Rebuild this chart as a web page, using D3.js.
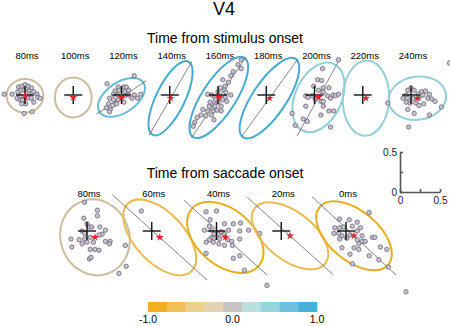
<!DOCTYPE html>
<html>
<head>
<meta charset="utf-8">
<script src="https://cdn.jsdelivr.net/npm/d3@7"></script>
<style>
  body { margin: 0; background: #fff; }
  svg { display: block; font-family: "Liberation Sans", Arial, sans-serif; }
</style>
</head>
<body>
<svg id="chart" width="450" height="326"></svg>
<script>
// ---- data (units = same as the 0.5 scale bar) ----
var stimLabels = ["80ms", "100ms", "120ms", "140ms", "160ms", "180ms", "200ms", "220ms", "240ms"]
var stimR = [-0.3, -0.3, 0.6, 0.9, 0.95, 0.9, 0.4, 0.4, 0.4]
var stimMean = [[0, -0.01], [0, -0.03], [0, -0.03], [0.01, -0.04], [0.01, -0.03], [0.04, -0.04], [0.05, -0.03], [0.04, -0.04], [0.08, -0.04]]
// [semi-major, semi-minor, angle deg]
var stimEllipse = [[0.23, 0.21, 0], [0.25, 0.23, 90], [0.33, 0.19, 34], [0.51, 0.18, 64], [0.59, 0.21, 57], [0.59, 0.21, 56], [0.46, 0.29, 65], [0.47, 0.29, 88], [0.36, 0.27, 8]]
// regression line [angle deg, half length] or null
var stimLine = [null, null, [34, 0.37], [60, 0.53], [56, 0.61], [54, 0.60], [61, 0.55], null, null]
var stimPoints = [
  [[-0.26, 0.01], [-0.16, 0.01], [-0.09, 0.04], [-0.08, 0.10], [-0.04, 0.11], [0, 0.13], [0.04, 0.11], [0.08, 0.09], [-0.05, 0.06], [-0.01, 0.06], [0.05, 0.05], [0.11, 0.04], [0.15, 0.01], [0.16, -0.03], [-0.10, -0.04], [-0.06, -0.06], [-0.03, -0.06], [0.03, -0.04], [0.08, -0.04], [0.11, -0.09], [0.01, -0.11], [-0.04, -0.11], [-0.01, -0.23], [0.09, -0.21], [0.19, -0.04], [-0.06, -0.01], [0.05, 0.01]],
  [],
  [[-0.18, 0.14], [0.16, 0.24], [-0.04, 0.10], [0.03, 0.10], [0.06, 0.10], [-0.08, 0.05], [-0.03, 0.06], [0.04, 0.04], [0.09, 0.06], [-0.10, 0.01], [-0.05, 0], [0.04, -0.01], [0.09, 0], [0.16, 0], [0.20, -0.04], [0.24, 0.01], [-0.15, -0.04], [-0.10, -0.06], [-0.04, -0.06], [0.03, -0.09], [-0.16, -0.11], [-0.11, -0.13], [-0.06, -0.11], [-0.19, -0.16], [-0.14, -0.18], [-0.15, -0.21], [0.13, -0.04]],
  [],
  [[0.29, 0.44], [0.25, 0.38], [0.29, 0.33], [0.19, 0.29], [0.16, 0.24], [0.06, 0.19], [0.13, 0.16], [0.09, 0.11], [0.03, 0.09], [0.08, 0.06], [0, 0.04], [0.10, 0.03], [0.16, 0], [0.09, -0.03], [-0.13, 0.01], [-0.08, 0], [-0.04, -0.03], [0.03, -0.03], [0.06, -0.06], [0.11, -0.08], [0, -0.09], [-0.08, -0.11], [-0.11, -0.14], [-0.04, -0.14], [0.04, -0.14], [-0.19, -0.18], [-0.13, -0.20], [-0.06, -0.20], [-0.01, -0.19], [0.04, -0.20], [-0.21, -0.25], [-0.15, -0.26], [-0.08, -0.25], [-0.05, -0.31], [-0.26, -0.28], [-0.29, -0.34], [-0.31, -0.39], [-0.10, -0.09], [-0.03, -0.06]],
  [],
  [[0.30, 0.44], [0.10, 0.33], [0.04, 0.19], [0.09, 0.18], [-0.01, 0.11], [0.11, 0.09], [0.18, 0.09], [0.05, 0.06], [0.11, 0.04], [-0.11, -0.01], [-0.08, -0.03], [-0.03, -0.01], [0.16, -0.01], [0.23, 0], [0.26, -0.01], [0.30, 0.01], [0.01, -0.05], [0.08, -0.08], [0.11, -0.08], [0.20, -0.04], [-0.11, -0.14], [0.11, -0.14], [0.18, -0.20], [0.24, -0.20], [0.08, -0.25], [-0.14, -0.30], [-0.09, -0.33], [-0.24, -0.38], [0.20, -0.40], [-0.28, -0.23]],
  [],
  [[0.48, 0.40], [-0.29, -0.10], [-0.04, 0.06], [0, 0.09], [0.04, 0.06], [0.13, 0.04], [0.18, 0.05], [0.23, 0.01], [0.15, 0], [0.09, 0.01], [-0.06, 0], [-0.10, -0.04], [-0.04, -0.04], [0.03, -0.04], [0.10, -0.04], [0.21, -0.04], [0.26, -0.05], [0.30, -0.08], [-0.06, -0.09], [-0.01, -0.10], [0.06, -0.10], [0.10, -0.13], [0.16, -0.11], [-0.04, -0.18], [0.04, -0.23], [0.23, -0.25], [0.38, -0.15], [-0.03, -0.40]]
]

var sacLabels = ["80ms", "60ms", "40ms", "20ms", "0ms"]
var sacR = [-0.3, -0.6, -0.85, -0.6, -0.85]
var sacMean = [[0.10, -0.08], [0.10, -0.08], [0.11, -0.08], [0.11, -0.06], [0.10, -0.06]]
var sacEllipse = [[0.48, 0.43, -70], [0.58, 0.31, -47], [0.55, 0.35, -40], [0.56, 0.30, -38], [0.56, 0.31, -40]]
var sacLine = [null, [-42, 0.80], [-42, 0.70], [-42, 0.72], [-43, 0.72]]
var sacPoints = [
  [[-0.03, 0.36], [0.13, 0.26], [-0.04, 0.16], [0.13, 0.19], [0, 0.09], [0.03, 0.05], [0.06, 0.05], [0.16, 0.05], [0.23, 0.01], [-0.06, 0], [-0.03, -0.03], [0.19, -0.04], [0.15, -0.05], [0.04, -0.08], [-0.03, -0.10], [-0.20, -0.10], [-0.19, -0.20], [-0.06, -0.16], [0, -0.14], [0.23, -0.13], [0.29, -0.13], [0.28, -0.16], [0.04, -0.23], [0.10, -0.23], [0.15, -0.24], [0.48, -0.18], [0.03, -0.35], [0.05, -0.33], [0.40, -0.53], [0.49, -0.44], [-0.10, -0.11], [0.08, -0.14]],
  [[-0.13, 0.25]],
  [[-0.13, 0.24], [0, 0.25], [-0.08, 0.14], [0.10, 0.09], [0.21, 0.09], [0.30, 0.10], [-0.09, 0.06], [-0.15, 0.01], [-0.06, 0.01], [-0.03, -0.04], [0.03, -0.04], [0.06, -0.01], [0.10, -0.04], [0.15, 0.01], [-0.06, -0.08], [-0.03, -0.09], [0.04, -0.10], [-0.09, -0.11], [-0.13, -0.14], [0.14, -0.11], [0.19, -0.13], [0.29, -0.10], [0.29, 0], [0.40, 0.01], [0.10, -0.18], [0.20, -0.18], [-0.13, -0.28], [0.21, -0.34], [0.29, -0.31], [0.35, -0.49], [-0.04, -0.14], [0.03, -0.16], [0.63, -0.68], [0.54, -0.03]],
  [],
  [[0.29, 0.23], [-0.08, 0.15], [0.04, 0.14], [0.14, 0.11], [-0.14, 0.04], [-0.08, 0.04], [-0.03, 0.05], [0.08, 0.06], [0.18, 0.04], [-0.15, -0.03], [-0.09, -0.03], [-0.05, -0.06], [-0.08, -0.10], [0.01, -0.09], [0.20, -0.06], [0.33, -0.08], [0.36, -0.08], [0.14, -0.11], [0.16, -0.16], [0.20, -0.13], [0.24, -0.13], [0.10, -0.21], [-0.05, -0.21], [0.16, -0.23], [0.43, -0.20], [0.05, -0.29], [0.29, -0.31], [0.51, -0.23], [0.41, -0.36], [0.08, -0.41], [0.53, -0.45], [0.14, 0], [0.05, -0.05], [0.75, -0.76]]
]

var barColors = ["#f0b020", "#f0c058", "#ecd08c", "#e2d4b2", "#c8c4c4", "#b8e0e0", "#98d4dc", "#6cc0dc", "#48b0d8"]
var barTicks = [-1, 0, 1]
var scaleTicks = [0, 0.25, 0.5]

// ---- scales ----
var svg = d3.select("#chart")
var u = d3.scaleLinear().domain([0, 0.5]).range([0, 40])
var colorScale = d3.scaleQuantize().domain([-1, 1]).range(barColors)
var stimX = d3.scalePoint().domain(stimLabels).range([25, 411])
var sacX = d3.scalePoint().domain(sacLabels).range([87, 346])

svg.append("text").attr("x", 224).attr("y", 15).attr("text-anchor", "middle")
  .style("font-size", "18px").text("V4")
svg.append("text").attr("x", 225).attr("y", 43).attr("text-anchor", "middle")
  .style("font-size", "14px").text("Time from stimulus onset")
svg.append("text").attr("x", 225).attr("y", 178).attr("text-anchor", "middle")
  .style("font-size", "14px").text("Time from saccade onset")

function drawRow(labels, xs, cy, labelY, rs, means, ells, lines, pts) {
  labels.forEach(function (lab, i) {
    var cx = xs(lab)
    svg.append("text").attr("x", cx + 2).attr("y", labelY).attr("text-anchor", "middle")
      .style("font-size", "9.5px").text(lab)
    var g = svg.append("g").attr("transform", "translate(" + cx + "," + cy + ")")
    var m = means[i], e = ells[i]
    var mx = u(m[0]), my = -u(m[1])
    var c = colorScale(rs[i])
    g.append("ellipse")
      .attr("cx", mx).attr("cy", my)
      .attr("rx", u(e[0])).attr("ry", u(e[1]))
      .attr("transform", "rotate(" + (-e[2]) + "," + mx + "," + my + ")")
      .attr("fill", "none")
      .attr("stroke", Math.abs(rs[i]) < 0.5 && rs[i] < 0 ? d3.color(c).darker(0.3) : d3.color(c).darker(0.08))
      .attr("stroke-width", 2)
    if (lines[i]) {
      var a = lines[i][0] * Math.PI / 180, h = lines[i][1]
      g.append("line")
        .attr("x1", u(m[0] - h * Math.cos(a))).attr("y1", -u(m[1] - h * Math.sin(a)))
        .attr("x2", u(m[0] + h * Math.cos(a))).attr("y2", -u(m[1] + h * Math.sin(a)))
        .attr("stroke", "#666").attr("stroke-width", 0.8)
    }
    g.selectAll("circle").data(pts[i]).enter().append("circle")
      .attr("cx", function (d) { return u(d[0]) })
      .attr("cy", function (d) { return -u(d[1]) })
      .attr("r", 2.2)
      .attr("fill", "#c8c4d4")
      .attr("stroke", "#5a5560")
      .attr("stroke-width", 0.7)
    // fixation cross
    g.append("line").attr("x1", -9).attr("x2", 9).attr("y1", 0).attr("y2", 0)
      .attr("stroke", "#111").attr("stroke-width", 1.4)
    g.append("line").attr("x1", 0).attr("x2", 0).attr("y1", -9).attr("y2", 9)
      .attr("stroke", "#111").attr("stroke-width", 1.4)
    g.append("path")
      .attr("d", d3.symbol().type(d3.symbolStar).size(20))
      .attr("transform", "translate(" + mx + "," + my + ")")
      .attr("fill", "#e8202a")
  })
}

drawRow(stimLabels, stimX, 95, 59, stimR, stimMean, stimEllipse, stimLine, stimPoints)
drawRow(sacLabels, sacX, 231, 197, sacR, sacMean, sacEllipse, sacLine, sacPoints)

// ---- scale bar ----
var sb = svg.append("g").attr("transform", "translate(400,192)")
var fmt = function (d) { return d === 0.25 ? "" : (d === 0 ? "0" : "0.5") }
var xAx = sb.append("g").call(d3.axisBottom(u).tickValues(scaleTicks).tickFormat(fmt).tickSizeInner(-3).tickSizeOuter(0))
var uy = d3.scaleLinear().domain([0, 0.5]).range([0, -40])
var yAx = sb.append("g").call(d3.axisLeft(uy).tickValues(scaleTicks).tickFormat(fmt).tickSizeInner(-3).tickSizeOuter(0))
sb.selectAll(".domain, .tick line").attr("stroke", "#555").attr("stroke-width", 1.6)
sb.selectAll("text").style("font-size", "10px").attr("fill", "#222").style("font-family", "Liberation Sans, Arial, sans-serif")
xAx.selectAll("text").attr("dy", "0.9em")

// ---- colour bar ----
var cb = d3.scaleLinear().domain([-1, 1]).range([148, 317])
var step = 2 / barColors.length
svg.selectAll("rect.bin").data(barColors).enter().append("rect")
  .attr("class", "bin")
  .attr("x", function (d, i) { return cb(-1 + i * step) })
  .attr("width", function () { return cb(step) - cb(0) + 0.3 })
  .attr("y", 302).attr("height", 10)
  .attr("fill", function (d) { return d })
svg.selectAll("text.cbl").data(barTicks).enter().append("text")
  .attr("class", "cbl")
  .attr("x", function (d) { return cb(d) })
  .attr("y", 323).attr("text-anchor", "middle")
  .style("font-size", "10.5px")
  .text(function (d) { return d.toFixed(1) })
</script>
</body>
</html>
